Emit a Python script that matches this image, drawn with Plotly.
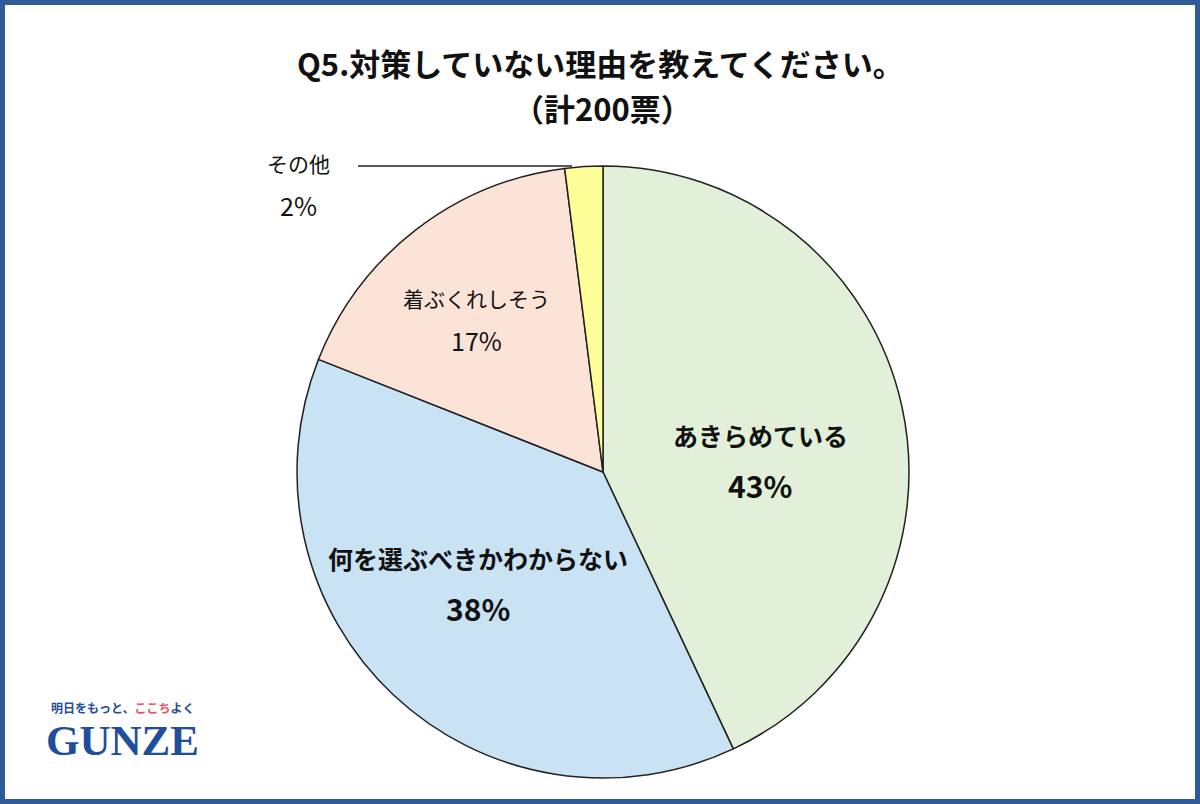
import plotly.graph_objects as go

labels = ["あきらめている", "何を選ぶべきかわからない", "着ぶくれしそう", "その他"]
values = [43, 38, 17, 2]
colors = ["#E2F0D9", "#C9E3F5", "#FBE3D8", "#FFFF99"]
bold = [True, True, False, False]
label_pos = [(760, 435, 485), (478, 558, 608), (476, 298, 340), (298, 163, 205)]

W, H = 1200, 804
fig = go.Figure(go.Pie(
    labels=labels, values=values, sort=False, direction="clockwise", rotation=0,
    marker=dict(colors=colors, line=dict(color="#222222", width=1.5)),
    textinfo="none", hoverinfo="label+percent", showlegend=False,
    domain=dict(x=[(603-306)/W, (603+306)/W], y=[(804-778)/H, (804-166)/H]),
))

def A(x, y, text, font):
    return dict(x=x/W, y=1-y/H, xref="paper", yref="paper", xanchor="center", yanchor="middle",
                text=text, showarrow=False, font=font)

ann = []
for lab, v, b, (x, y1, y2) in zip(labels, values, bold, label_pos):
    f1 = dict(size=25 if b else 21, color="#111111")
    f2 = dict(size=30 if b else 25, color="#111111")
    for t, y, f in ((lab, y1, f1), (f"{v}%", y2, f2)):
        ann.append(A(x, y, f"<b>{t}</b>" if b else t, f))
ann.append(A(600, 62, "<b>Q5.対策していない理由を教えてください。</b>", dict(size=31, color="#111")))
ann.append(A(603, 108, "<b>（計200票）</b>", dict(size=31, color="#111")))
ann.append(A(123, 707, "<b>明日をもっと、<span style='color:#E9546B'>ここち</span>よく</b>", dict(size=12, color="#1F4E9A")))
ann.append(A(123, 740, "<b>GUNZE</b>", dict(size=43, color="#1F4E9A", family="Liberation Serif")))

fig.update_layout(
    width=W, height=H, margin=dict(l=0, r=0, t=0, b=0),
    paper_bgcolor="white", plot_bgcolor="white",
    font=dict(family="Noto Sans CJK JP"),
    annotations=ann,
    shapes=[
        dict(type="rect", xref="paper", yref="paper", x0=0, y0=0, x1=1, y1=1,
             line=dict(color="#2F5C99", width=10)),
        dict(type="line", xref="paper", yref="paper", x0=358/W, x1=572/W, y0=1-166/H, y1=1-166/H,
             line=dict(color="#222", width=1.5)),
    ],
)
fig.write_html("out.html", config={"displayModeBar": False},
               post_script="document.body.style.margin='0';document.body.style.overflow='hidden';")
